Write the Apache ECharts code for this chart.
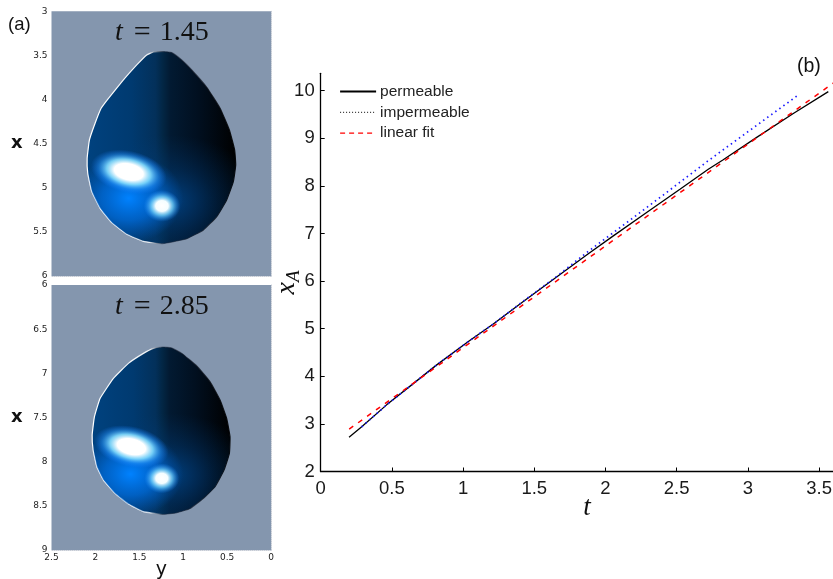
<!DOCTYPE html>
<html><head><meta charset="utf-8">
<style>html,body{margin:0;padding:0;background:#fff}#c{width:833px;height:579px}</style>
<script src="https://cdn.jsdelivr.net/npm/echarts@6/dist/echarts.min.js"></script>
</head><body><div id="c"></div>
<script>
// Panel (b) data: front position x_A against t
const permeable = [[0.199,2.72],[0.288,2.94],[0.463,3.40],[0.639,3.82],[0.815,4.24],[1.037,4.73],[1.212,5.10],[1.423,5.57],[1.645,6.06],[1.877,6.57],[2.055,6.95],[2.289,7.44],[2.523,7.93],[2.722,8.35],[2.827,8.55],[3.062,9.02],[3.319,9.52],[3.565,9.98]];
const impermeable = [[0.288,2.94],[0.463,3.40],[0.639,3.82],[0.815,4.24],[1.037,4.73],[1.212,5.10],[1.423,5.58],[1.645,6.07],[1.877,6.62],[2.172,7.28],[2.406,7.81],[2.722,8.53],[3.015,9.17],[3.354,9.91]];
const linearFit = [[0.2,2.89],[3.6,10.16]];
const xTicksB = [0,0.5,1,1.5,2,2.5,3,3.5];
const yTicksB = [2,3,4,5,6,7,8,9,10];
const seriesNames = ['permeable','impermeable','linear fit'];

// Panel (a) drop outlines, in data units (y is horizontal, x is vertical)
const dropTopY = [1.237,1.131,1.017,0.903,0.732,0.580,0.474,0.414,0.402,0.429,0.505,0.618,0.770,0.960,1.237,1.453,1.643,1.814,1.946,2.041,2.087,2.094,2.068,2.011,1.935,1.851,1.681,1.529,1.415,1.339];
const dropTopX = [3.457,3.468,3.552,3.665,3.861,4.099,4.345,4.572,4.742,4.931,5.138,5.327,5.478,5.577,5.633,5.607,5.527,5.395,5.233,5.044,4.836,4.666,4.458,4.288,4.099,3.986,3.778,3.608,3.495,3.461];
const dropBotY = [1.237,1.131,1.017,0.846,0.695,0.580,0.505,0.467,0.474,0.535,0.637,0.770,0.922,1.074,1.237,1.453,1.624,1.776,1.908,1.984,2.026,2.037,2.011,1.946,1.795,1.624,1.453,1.339];
const dropBotX = [6.702,6.713,6.774,6.917,7.094,7.302,7.510,7.717,7.906,8.095,8.283,8.415,8.529,8.578,8.596,8.566,8.479,8.359,8.208,8.057,7.868,7.698,7.491,7.283,7.057,6.887,6.774,6.717];
// Bright regions: centre y, centre x, half-width (y units), half-height (x units)
const glowsTop = [[1.15,5.15,1.05,0.75],[1.62,5.12,0.62,0.50],[1.62,4.82,0.44,0.24],[1.242,5.206,0.21,0.18]];
const glowsBot = [[1.15,8.15,1.00,0.70],[1.60,8.14,0.60,0.48],[1.59,7.83,0.43,0.23],[1.244,8.189,0.20,0.17]];

const F = 'Liberation Sans';
const GLOW_STYLES = [
  {rot:0, stops:[[0,'rgba(0,85,170,0.65)'],[0.5,'rgba(0,70,140,0.3)'],[1,'rgba(0,60,120,0)']]},
  {rot:0, stops:[[0,'rgba(0,130,255,1)'],[0.5,'rgba(0,115,235,0.65)'],[1,'rgba(0,100,210,0)']]},
  {rot:-0.22, stops:[[0,'#fff'],[0.38,'#fff'],[0.58,'rgba(130,220,255,0.9)'],[0.8,'rgba(40,150,255,0.45)'],[1,'rgba(20,120,255,0)']]},
  {rot:0, stops:[[0,'#fff'],[0.34,'#f4fdff'],[0.6,'rgba(120,215,255,0.75)'],[1,'rgba(30,140,255,0)']]}
];
function stops(a){return a.map(s=>({offset:s[0],color:s[1]}));}
const BODY = stops([[0,'#00427f'],[0.3,'#003a70'],[0.46,'#03305a'],[0.51,'#022644'],[0.56,'#021a32'],[0.75,'#010f1f'],[1,'#000']]);
const RIM = stops([[0,'#fff'],[0.42,'rgba(255,255,255,0.9)'],[0.52,'rgba(20,30,50,0.5)'],[1,'rgba(0,0,0,0.9)']]);

function dropRenderer(ys,xs,glows){
  return function(params,api){
    const pts = ys.map((y,i)=>api.coord([y,xs[i]]));
    const kids = glows.map((g,i)=>{
      const c = api.coord([g[0],g[1]]);
      const e = api.coord([g[0]+g[2],g[1]+g[3]]);
      return {type:'circle',shape:{cx:0,cy:0,r:100},x:c[0],y:c[1],
        scaleX:Math.abs(e[0]-c[0])/100,scaleY:Math.abs(e[1]-c[1])/100,rotation:GLOW_STYLES[i].rot,
        style:{fill:{type:'radial',x:0.5,y:0.5,r:0.5,colorStops:stops(GLOW_STYLES[i].stops)}}};
    });
    return {type:'group',children:[
      {type:'polygon',shape:{points:pts,smooth:0.12},
        style:{fill:{type:'linear',x:0,y:0,x2:1,y2:0,colorStops:BODY},stroke:{type:'linear',x:0,y:0,x2:1,y2:0,colorStops:RIM},lineWidth:1.2,lineJoin:'round'}},
      {type:'group',clipPath:{type:'polygon',shape:{points:pts,smooth:0.12}},children:kids}
    ]};
  };
}
const smallAxis = {show:true,lineStyle:{color:'#c6ccd6',width:1,type:'dotted'}};
const smallLabel = {fontFamily:'DejaVu Sans',fontSize:9,color:'#222',margin:4};
function leftX(gi,show){return {gridIndex:gi,type:'value',min:0,max:2.5,interval:0.5,inverse:true,
  axisLine:smallAxis,axisTick:{show:false},splitLine:{show:false},
  axisLabel:{...smallLabel,show:show,margin:3},
  name:show?'y':'',nameLocation:'middle',nameGap:11,nameMoveOverlap:false,nameTextStyle:{fontFamily:'DejaVu Sans',fontSize:19,color:'#111'}};}
function leftY(gi,min,max){return {gridIndex:gi,type:'value',min:min,max:max,interval:0.5,inverse:true,
  axisLine:smallAxis,axisTick:{show:false},splitLine:{show:false},axisLabel:smallLabel,
  name:'x',nameLocation:'middle',nameRotate:0,nameGap:29,nameMoveOverlap:false,nameTextStyle:{fontFamily:'DejaVu Sans',fontWeight:'bold',fontSize:18,color:'#111'}};}
const rightLine = {show:true,onZero:false,lineStyle:{color:'#000',width:1.3}};
const rightLabel = {fontFamily:F,fontSize:18.5,color:'#1a1a1a'};
function mathTitle(t,top){const base={fontFamily:'Liberation Serif',fontWeight:'normal',color:'#111'};
  return {text:'{i|t}{e|=}{n|'+t+'}',left:115,top:top,
  textStyle:{fontWeight:'normal',rich:{i:{...base,fontStyle:'italic',fontSize:28},
    e:{...base,fontSize:30,padding:[0,9,0,11]},
    n:{...base,fontSize:28}}},padding:0};}

const chart = echarts.init(document.getElementById('c'),null,{renderer:'canvas'});
chart.setOption({
  animation:false,backgroundColor:'#fff',
  title:[
    mathTitle('1.45',18),mathTitle('2.85',292),
    {text:'(a)',left:8,top:15,padding:0,textStyle:{fontFamily:F,fontWeight:'normal',fontSize:18.5,color:'#111'}},
    {text:'(b)',left:797,top:57,padding:0,textStyle:{fontFamily:F,fontWeight:'normal',fontSize:19.5,color:'#111'}}
  ],
  grid:[
    {left:51.5,top:11.3,width:219.5,height:264.7,show:true,backgroundColor:'#8496ae',borderWidth:0,outerBoundsMode:'none'},
    {left:51.5,top:285,width:219.5,height:265,show:true,backgroundColor:'#8496ae',borderWidth:0,outerBoundsMode:'none'},
    {left:320.7,top:73.3,width:512.6,height:398.2,show:false,outerBoundsMode:'none'}
  ],
  xAxis:[leftX(0,false),leftX(1,true),
    {gridIndex:2,type:'value',min:0,max:3.6,axisLine:rightLine,splitLine:{show:false},
     axisTick:{show:true,inside:true,length:4,lineStyle:{color:'#000',width:1},customValues:xTicksB},
     axisLabel:{...rightLabel,margin:8,customValues:xTicksB},
     name:'t',nameLocation:'middle',nameGap:23,nameMoveOverlap:false,
     nameTextStyle:{fontFamily:'Liberation Serif',fontStyle:'italic',fontSize:27,color:'#111',padding:[0,0,0,20]}}],
  yAxis:[leftY(0,3,6),leftY(1,6,9),
    {gridIndex:2,type:'value',min:2,max:10.366,axisLine:rightLine,splitLine:{show:false},
     axisTick:{show:true,inside:true,length:4,lineStyle:{color:'#000',width:1},customValues:yTicksB},
     axisLabel:{...rightLabel,margin:6,customValues:yTicksB},
     name:'{i|x}{s|A}',nameLocation:'middle',nameRotate:90,nameGap:17,nameMoveOverlap:false,
     nameTextStyle:{padding:[0,0,0,-20],rich:{i:{fontFamily:'Liberation Serif',fontStyle:'italic',fontSize:28,color:'#111'},
       s:{fontFamily:'Liberation Serif',fontStyle:'italic',fontSize:19,color:'#111',padding:[16,0,0,0]}}}}],
  legend:{left:339,top:83.5,orient:'vertical',padding:0,itemWidth:36,itemHeight:16,itemGap:4.8,
    textStyle:{fontFamily:F,fontSize:15.5,color:'#222',padding:[0,0,0,-1]},
    data:[
      {name:seriesNames[0],itemStyle:{opacity:0},lineStyle:{color:'#000',width:2.2}},
      {name:seriesNames[1],itemStyle:{opacity:0},lineStyle:{color:'#000',width:1,type:[1,2]}},
      {name:seriesNames[2],itemStyle:{opacity:0},lineStyle:{color:'#ff0000',width:1.2,type:[5,4]}}
    ]},
  series:[
    {type:'custom',xAxisIndex:0,yAxisIndex:0,data:[[1.25,4.5]],renderItem:dropRenderer(dropTopY,dropTopX,glowsTop),silent:true,clip:true},
    {type:'custom',xAxisIndex:1,yAxisIndex:1,data:[[1.25,7.5]],renderItem:dropRenderer(dropBotY,dropBotX,glowsBot),silent:true,clip:true},
    {name:seriesNames[0],type:'line',xAxisIndex:2,yAxisIndex:2,data:permeable,symbol:'none',lineStyle:{color:'#000',width:1.3}},
    {name:seriesNames[1],type:'line',xAxisIndex:2,yAxisIndex:2,data:impermeable,symbol:'none',lineStyle:{color:'#1a1aff',width:1.7,type:[1.5,3.5]}},
    {name:seriesNames[2],type:'line',xAxisIndex:2,yAxisIndex:2,data:linearFit,symbol:'none',lineStyle:{color:'#ff0000',width:1.5,type:[5,6]}}
  ]
});
</script></body></html>
